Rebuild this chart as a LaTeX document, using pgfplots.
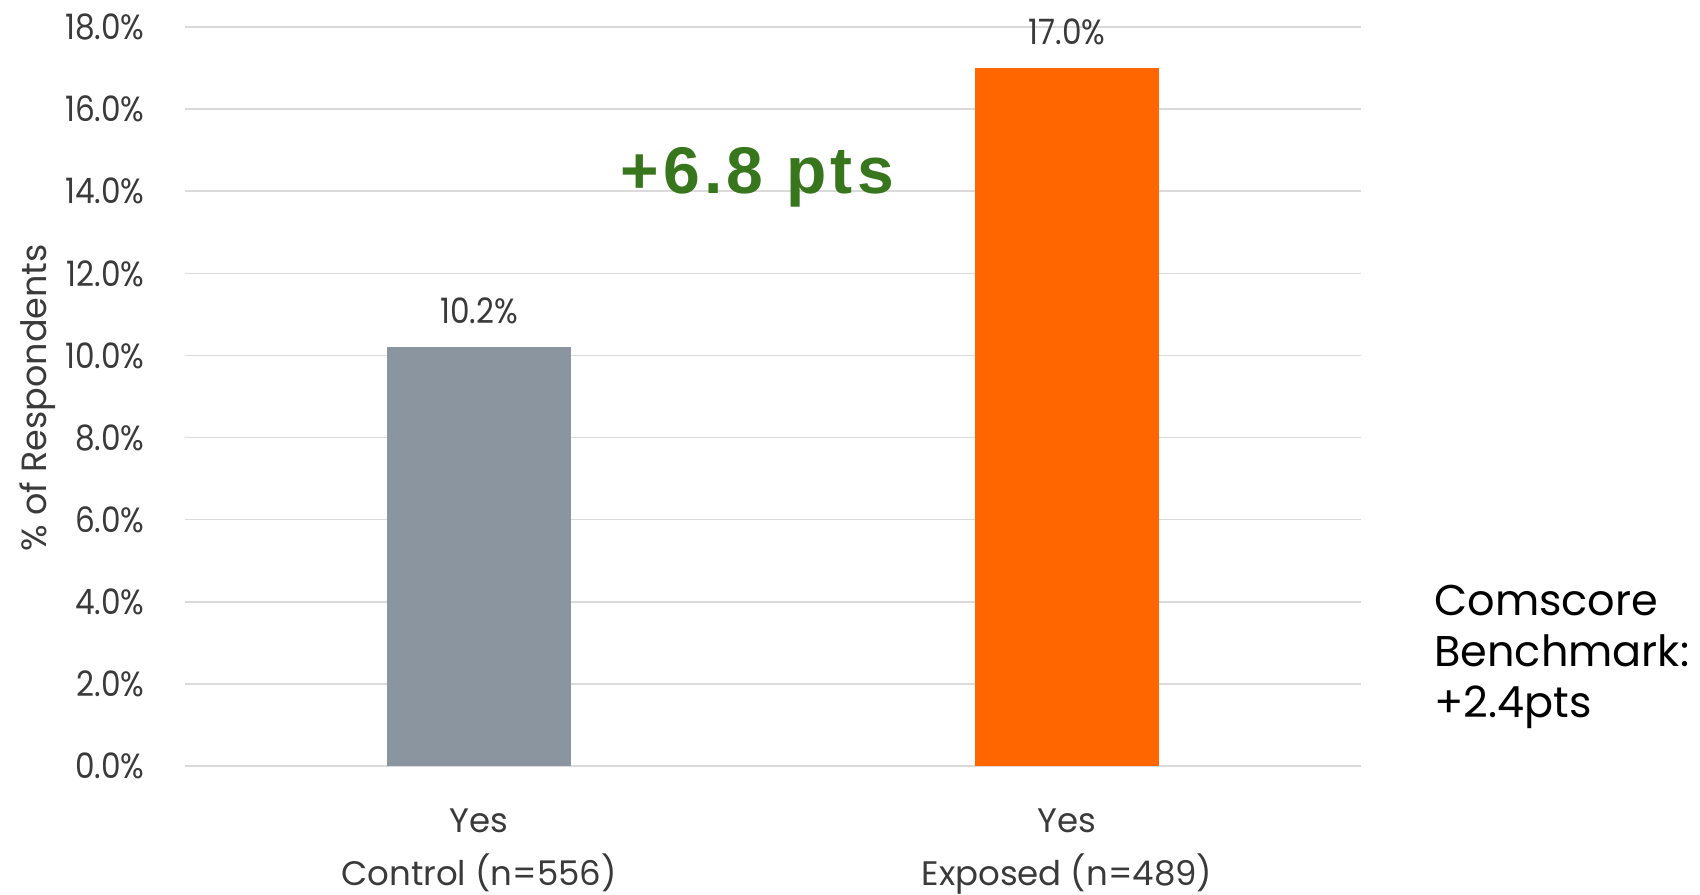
\documentclass[border=0pt]{standalone}
\usepackage{pgfplots}
\pgfplotsset{compat=1.18}
\usepackage{fontspec}
\setmainfont{Poppins}
\newfontfamily\chartfont{Poppins}
\newfontfamily\numfont[FakeStretch=0.89]{Poppins}
\newfontfamily\liftfont[LetterSpace=6.5]{Liberation Sans}

\definecolor{barGray}{HTML}{8A959F}
\definecolor{barOrange}{HTML}{FF6600}
\definecolor{liftGreen}{HTML}{38761D}
\definecolor{labelGray}{HTML}{3A3A3A}
\definecolor{gridGray}{HTML}{DADADA}

\begin{document}
\begin{tikzpicture}
\begin{axis}[
  at={(92.5pt,64pt)}, anchor=south west,
  scale only axis, width=588pt, height=369.5pt,
  xmin=-0.5, xmax=1.5, ymin=0, ymax=18,
  ybar, bar width=92pt,
  axis line style={draw=none}, tick style={draw=none},
  ytick={0,2,...,18},
  ymajorgrids, grid style={gridGray, line width=0.8pt},
  yticklabel={\pgfmathprintnumber[fixed,fixed zerofill,precision=1,assume math mode=true]{\tick}\%},
  yticklabel style={anchor=east, inner sep=0pt, xshift=-20pt,
    font=\numfont\fontsize{17.5}{21}\selectfont, text=labelGray},
  xtick={0,1},
  xticklabels={Yes\\Control (n=556), Yes\\Exposed (n=489)},
  xticklabel style={align=center, anchor=north, inner sep=0pt, yshift=-16.8pt,
    font=\chartfont\fontsize{17}{26.5}\selectfont, text=labelGray},
  nodes near coords={\pgfmathprintnumber[fixed,fixed zerofill,precision=1,assume math mode=true]{\pgfplotspointmeta}\%},
  nodes near coords style={anchor=base, inner sep=0pt, yshift=12pt,
    font=\numfont\fontsize{17.5}{21}\selectfont, text=labelGray},
]
\addplot[fill=barGray, draw=none, bar shift=0pt] coordinates {(0,10.2)};
\addplot[fill=barOrange, draw=none, bar shift=0pt] coordinates {(1,17.0)};
\node[anchor=base, text=liftGreen, font=\liftfont\bfseries\fontsize{33}{40}\selectfont]
  at (axis cs:0.473,13.95) {+6.8 pts};
\end{axis}
\node[rotate=90, anchor=base, inner sep=0pt, text=labelGray,
  font=\chartfont\fontsize{17.5}{21}\selectfont] at (23pt,248pt) {\% of Respondents};
\node[anchor=base west, align=left, inner sep=0pt, text=black,
  font=\chartfont\fontsize{21.5}{25.5}\selectfont] at (717pt,88.25pt)
  {Comscore\\Benchmark:\\+2.4pts};
\pgfresetboundingbox
\path[use as bounding box] (0,0) rectangle (850pt,447pt);
\end{tikzpicture}
\end{document}
